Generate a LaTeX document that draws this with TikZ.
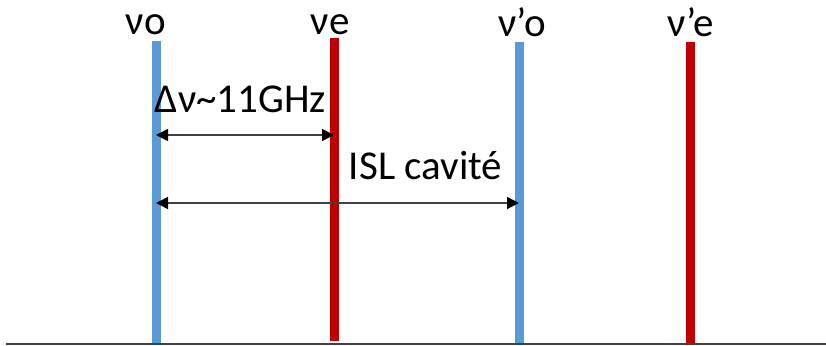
\documentclass[tikz,border=0pt]{standalone}
\usepackage{fontspec}
\setmainfont{Carlito}
\usetikzlibrary{arrows.meta}
\definecolor{ordblue}{HTML}{5B9BD5}
\definecolor{extred}{HTML}{C00000}
\definecolor{axisgray}{HTML}{404040}
\begin{document}
\begin{tikzpicture}[x=1pt, y=-1pt,
    every node/.style={font=\fontsize{41}{49}\selectfont, inner sep=0pt},
    mode/.style={line width=9pt},
    gap/.style={{Triangle[length=12pt,width=12pt,black]}-{Triangle[length=12pt,width=12pt,black]}, line width=1.5pt, draw=axisgray}]
  \useasboundingbox (0,0) rectangle (826,345);

  % frequency axis
  \draw[axisgray, line width=2pt] (6,343.5) -- (826,343.5);

  % modes: name / x / top / bottom / colour / label / label x / label base
  \foreach \nm/\xx/\yt/\yb/\col/\lbl/\lx/\ly in {o/156/41/343/ordblue/νo/146/35, e/334/38/341/extred/νe/330/35,
      po/519/42/343/ordblue/ν’o/522/37, pe/690/42/343/extred/ν’e/691/37}{
    \coordinate (\nm-top) at (\xx,\yt);
    \coordinate (\nm-bot) at (\xx,\yb);
    \coordinate (\nm-mid) at (\xx,135);
    \coordinate (\nm-low) at (\xx,203);
    \draw[mode, \col] (\nm-top) -- (\nm-bot);
    \node[anchor=base] (\nm-lbl) at (\lx,\ly) {\lbl};
  }

  % spacings
  \draw[gap] (o-mid) -- (e-mid);
  \node[anchor=base] (dnu) at (240.5,112) {Δν\textasciitilde 11GHz};
  \draw[gap] (o-low) -- (po-low);
  \node[anchor=base] (isl) at (425.5,179) {ISL cavité};
\end{tikzpicture}
\end{document}
